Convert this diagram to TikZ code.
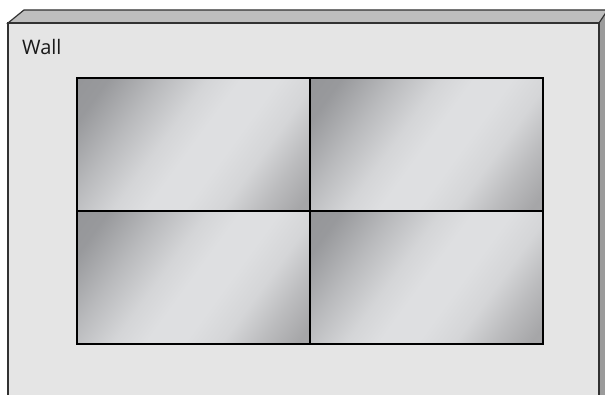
\documentclass[tikz,border=0pt]{standalone}
\usepackage{xcolor}
\usepackage{fontspec}
\setsansfont{Open Sans}
\usepackage{tikz}
\usetikzlibrary{positioning}

\definecolor{wallfront}{RGB}{229,229,229}
\definecolor{walltop}{RGB}{190,190,190}
\definecolor{wallside}{RGB}{155,155,155}
\definecolor{edgegray}{RGB}{50,50,50}
\definecolor{scrdark}{RGB}{140,141,144}
\definecolor{scrlight}{RGB}{222,223,225}
\definecolor{scrmid}{RGB}{160,160,162}

\pgfdeclarehorizontalshading{screenshade}{100bp}{color(0bp)=(scrdark); color(22bp)=(scrdark!85!scrlight); color(33bp)=(scrdark!45!scrlight); color(43bp)=(scrdark!12!scrlight); color(50bp)=(scrlight); color(58bp)=(scrlight); color(66bp)=(scrmid!15!scrlight); color(74bp)=(scrmid!55!scrlight); color(82bp)=(scrmid!90!scrlight); color(100bp)=(scrmid)}

\begin{document}
\begin{tikzpicture}[x=1pt,y=1pt,
	wallface/.style={draw=edgegray,line width=1.2pt,line join=miter},
	screen/.style={draw=black,line width=1.3pt,shade,shading=screenshade,shading angle=-36,
		minimum width=233pt,minimum height=133pt,inner sep=0pt}]
	
	\useasboundingbox (0,0) rectangle (605,395);
	
	% the wall
	\filldraw[wallface,fill=walltop] (8,372) -- (24,385) -- (614,385) -- (599,372) -- cycle;
	\filldraw[wallface,fill=wallside] (599,372) -- (607,384) -- (607,-10) -- (599,-10) -- cycle;
	\filldraw[wallface,fill=wallfront] (8,-10) rectangle (599,372);
	
	\node[anchor=base west,inner sep=0pt,font=\sffamily\fontsize{20}{24}\selectfont,text=black!90] (label) at (22,340) {Wall};
	
	% the four screens
	\node[screen] (s1) at (193.5,250.5) {};
	\node[screen] (s2) at (426.5,250.5) {};
	\node[screen] (s3) at (193.5,117.5) {};
	\node[screen] (s4) at (426.5,117.5) {};
	
\end{tikzpicture}
\end{document}
